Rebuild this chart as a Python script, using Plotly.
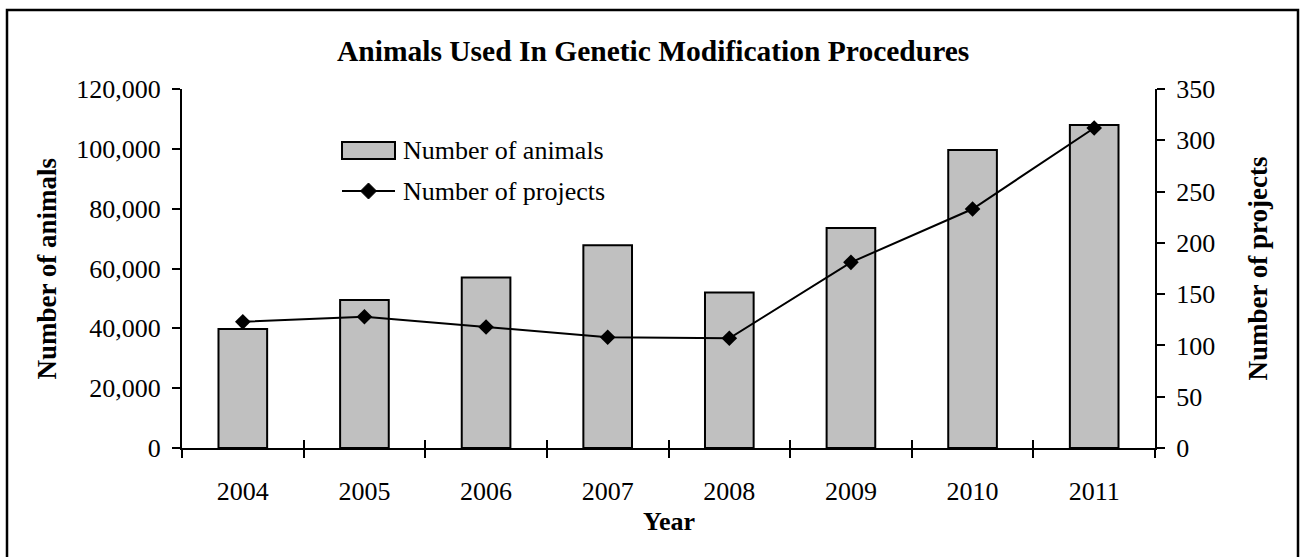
import plotly.graph_objects as go

# ---- data ----
years = ["2004", "2005", "2006", "2007", "2008", "2009", "2010", "2011"]
animals = [39800, 49500, 57000, 67800, 52000, 73500, 99600, 108000]
projects = [123, 128, 118, 108, 107, 181, 233, 312]
left_tickvals = [0, 20000, 40000, 60000, 80000, 100000, 120000]
left_ticktext = ["0", "20,000", "40,000", "60,000", "80,000", "100,000", "120,000"]
right_tickvals = [0, 50, 100, 150, 200, 250, 300, 350]

FONT = "Liberation Serif"
W, H = 1300, 557
L, R, T, B = 182, 145, 89, 109
PW, PH = W - L - R, H - T - B


def px(x):
    return (x - L) / PW


def py(y):
    return (H - B - y) / PH


fig = go.Figure()
fig.add_trace(go.Bar(
    x=years, y=animals, name="Number of animals",
    marker=dict(color="#C0C0C0", line=dict(color="black", width=2)),
    xaxis="x", yaxis="y", showlegend=False,
))
fig.add_trace(go.Scatter(
    x=years, y=projects, name="Number of projects", mode="lines+markers",
    line=dict(color="black", width=2),
    marker=dict(symbol="diamond", size=12, color="black"),
    xaxis="x2", yaxis="y2", showlegend=False,
))

tickfont = dict(family=FONT, size=26, color="black")
common = dict(showgrid=False, zeroline=False, tickcolor="black", tickwidth=2, ticklen=8, fixedrange=True)

fig.update_layout(
    width=W, height=H, autosize=False,
    margin=dict(l=L, r=R, t=T, b=B),
    paper_bgcolor="white", plot_bgcolor="white",
    font=dict(family=FONT, color="black"),
    bargap=0.6,
    xaxis=dict(type="category", categoryorder="array", categoryarray=years,
               range=[-0.5, 7.5], tickson="boundaries", ticks="outside",
               showline=True, linecolor="black", linewidth=2,
               tickfont=tickfont, ticklabelstandoff=19, anchor="y", **common),
    xaxis2=dict(type="category", categoryorder="array", categoryarray=years,
                range=[-0.5, 7.5], tickson="boundaries", ticks="inside",
                overlaying="x", anchor="y", side="bottom",
                showticklabels=False, showline=False, **common),
    yaxis=dict(range=[0, 120000], tickvals=left_tickvals, ticktext=left_ticktext,
               ticks="outside", showline=True, linecolor="black", linewidth=2,
               tickfont=tickfont, ticklabelstandoff=6, anchor="x", **common),
    yaxis2=dict(range=[0, 350], tickvals=right_tickvals, ticks="outside",
                overlaying="y", side="right", anchor="x",
                showline=True, linecolor="black", linewidth=2,
                tickfont=tickfont, ticklabelstandoff=6, **common),
    yaxis3=dict(range=[0, 120000], tickvals=left_tickvals, ticks="inside",
                overlaying="y", side="left", anchor="x",
                showticklabels=False, showline=False, **common),
    yaxis4=dict(range=[0, 350], tickvals=right_tickvals, ticks="inside",
                overlaying="y", side="right", anchor="x",
                showticklabels=False, showline=False, **common),
)

# outer frame
fig.add_shape(type="rect", xref="paper", yref="paper",
              x0=px(7), x1=px(1298), y0=py(570), y1=py(10),
              line=dict(color="black", width=2.5), layer="below")

# titles
ann = dict(xref="paper", yref="paper", showarrow=False, xanchor="center", yanchor="middle")
fig.add_annotation(text="<b>Animals Used In Genetic Modification Procedures</b>",
                   x=px(653), y=py(51), font=dict(family=FONT, size=29.5, color="black"), **ann)
fig.add_annotation(text="<b>Year</b>", x=px(669), y=py(521),
                   font=dict(family=FONT, size=26, color="black"), **ann)
fig.add_annotation(text="<b>Number of animals</b>", x=px(46), y=0.5, textangle=-90,
                   font=dict(family=FONT, size=27, color="black"), **ann)
fig.add_annotation(text="<b>Number of projects</b>", x=px(1257), y=0.5, textangle=-90,
                   font=dict(family=FONT, size=27, color="black"), **ann)

# legend (drawn by hand to match the wide swatches)
fig.add_shape(type="rect", xref="paper", yref="paper",
              x0=px(342), x1=px(395), y0=py(159), y1=py(142),
              fillcolor="#C0C0C0", line=dict(color="black", width=2))
fig.add_shape(type="line", xref="paper", yref="paper",
              x0=px(342), x1=px(395), y0=py(191), y1=py(191),
              line=dict(color="black", width=2))
fig.add_shape(type="path", xref="paper", yref="paper",
              xsizemode="pixel", ysizemode="pixel",
              xanchor=px(368.5), yanchor=py(191),
              path="M -8 0 L 0 8 L 8 0 L 0 -8 Z",
              fillcolor="black", line=dict(color="black", width=1))
leg = dict(xref="paper", yref="paper", showarrow=False, xanchor="left", yanchor="middle")
fig.add_annotation(text="Number of animals", x=px(401), y=py(150),
                   font=dict(family=FONT, size=26, color="black"), **leg)
fig.add_annotation(text="Number of projects", x=px(401), y=py(191),
                   font=dict(family=FONT, size=26, color="black"), **leg)

fig.write_html("out.html", config={"displayModeBar": False},
               post_script="document.body.style.margin='0px';")
